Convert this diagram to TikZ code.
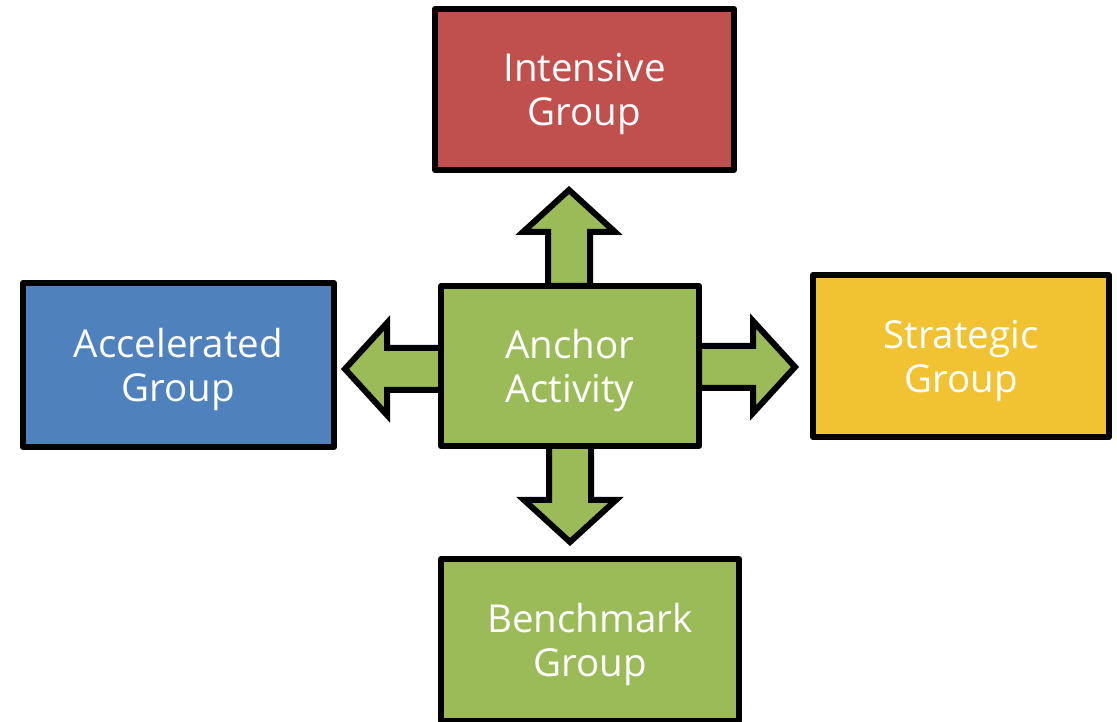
\documentclass[tikz,border=0pt]{standalone}
\usepackage{fontspec}
\setmainfont{Open Sans}
\usetikzlibrary{shadows}

\definecolor{grpred}{HTML}{C0504D}
\definecolor{grpblue}{HTML}{4F81BD}
\definecolor{grpgreen}{HTML}{9BBB59}
\definecolor{grpyellow}{HTML}{F1C232}

\tikzset{
  groupbox/.style={draw=black, line width=6pt, line join=round, inner sep=0pt,
    text=white, align=center, text depth=0pt,
    font=\fontsize{38.5}{44}\selectfont,
    drop shadow={shadow xshift=1pt, shadow yshift=-3pt, opacity=0.18}},
  arrowbody/.style={draw=black, fill=grpgreen, line width=6pt, line join=miter},
  pics/blockarrow/.style={code={
    \path[arrowbody] (0,-21) -- (54,-21) -- (54,-46) -- (96,0) -- (54,46)
      -- (54,21) -- (0,21) -- cycle;
  }}
}

\begin{document}
\begin{tikzpicture}[x=1pt, y=1pt]
  \useasboundingbox (0,0) rectangle (1117,722);

  % the five groups
  \node[groupbox, fill=grpred, minimum width=299pt, minimum height=161pt]
    (intensive) at (584.5,632.5) {Intensive\\Group};
  \node[groupbox, fill=grpblue, minimum width=311pt, minimum height=164pt]
    (accelerated) at (178.5,357) {Accelerated\\Group};
  \node[groupbox, fill=grpyellow, minimum width=296pt, minimum height=162pt]
    (strategic) at (961,366) {Strategic\\Group};
  \node[groupbox, fill=grpgreen, minimum width=298pt, minimum height=162pt]
    (benchmark) at (590,82) {Benchmark\\Group};

  % block arrows leaving the anchor activity
  \coordinate (upfoot)    at ([xshift=-1pt]570,436);
  \coordinate (leftfoot)  at (441,353);
  \coordinate (rightfoot) at (699,355);
  \coordinate (downfoot)  at (570,276);
  \pic[rotate=90]  at (upfoot)    {blockarrow};
  \pic[rotate=180] at (leftfoot)  {blockarrow};
  \pic             at (rightfoot) {blockarrow};
  \pic[rotate=-90] at (downfoot)  {blockarrow};

  \node[groupbox, fill=grpgreen, minimum width=258pt, minimum height=160pt]
    (anchor) at (570,356) {Anchor\\Activity};
\end{tikzpicture}
\end{document}
